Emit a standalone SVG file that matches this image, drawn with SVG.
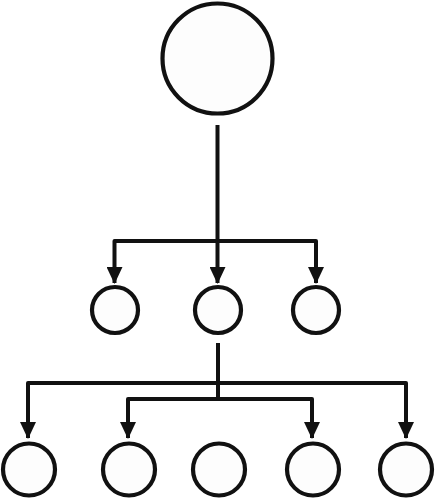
<svg xmlns="http://www.w3.org/2000/svg" width="435" height="500" viewBox="0 0 435 500">
<style>
.n{fill:#fdfdfd;stroke:#111;stroke-width:4.2}
.c{fill:none;stroke:#111;stroke-width:4;stroke-linejoin:round}
</style>
<defs>
<marker id="ah" refX="16" refY="8" markerUnits="userSpaceOnUse" markerWidth="18" markerHeight="16" orient="auto">
<path d="M0,0 L17,8 L0,16 Z" fill="#111"/>
</marker>
</defs>
<rect width="435" height="500" fill="#fff"/>
<g id="connectors">
<path class="c" d="M217.5,125 V241"/>
<path class="c" d="M217.5,241 H114.5 V283" marker-end="url(#ah)"/>
<path class="c" d="M217.5,241 V283" marker-end="url(#ah)"/>
<path class="c" d="M217.5,241 H316 V283" marker-end="url(#ah)"/>
<path class="c" d="M218,343 V399"/>
<path class="c" d="M218,383 H28 V438" marker-end="url(#ah)"/>
<path class="c" d="M218,383 H406 V438" marker-end="url(#ah)"/>
<path class="c" d="M218,399 H128 V438" marker-end="url(#ah)"/>
<path class="c" d="M218,399 H312 V438" marker-end="url(#ah)"/>
</g>
<g id="root"><circle class="n" cx="217.5" cy="58.5" r="55"/></g>
<g id="mid1"><circle class="n" cx="115" cy="310" r="23"/></g>
<g id="mid2"><circle class="n" cx="218" cy="310" r="23"/></g>
<g id="mid3"><circle class="n" cx="316" cy="310" r="23"/></g>
<g id="leaf1"><circle class="n" cx="29" cy="469.5" r="26"/></g>
<g id="leaf2"><circle class="n" cx="129" cy="469.5" r="26"/></g>
<g id="leaf3"><circle class="n" cx="219" cy="469.5" r="26"/></g>
<g id="leaf4"><circle class="n" cx="313" cy="469.5" r="26"/></g>
<g id="leaf5"><circle class="n" cx="406" cy="469.5" r="26"/></g>
</svg>
